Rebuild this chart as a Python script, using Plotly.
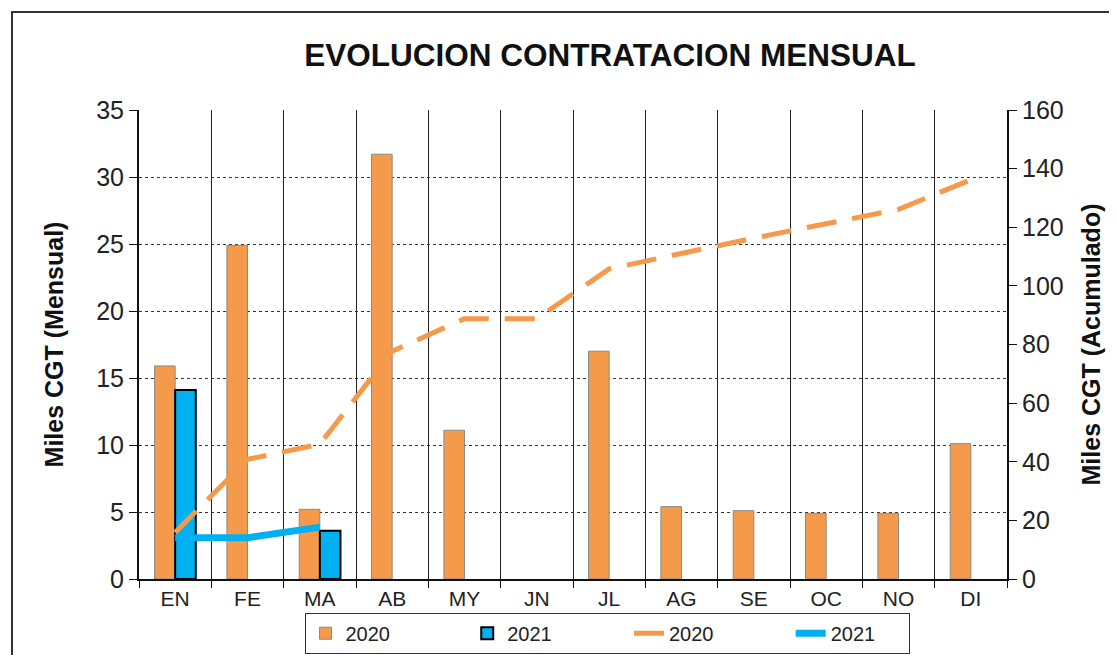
import plotly.graph_objects as go

months = ["EN", "FE", "MA", "AB", "MY", "JN", "JL", "AG", "SE", "OC", "NO", "DI"]
mensual_2020 = [15.9, 24.9, 5.2, 31.7, 11.1, 0.0, 17.0, 5.4, 5.1, 4.9, 4.9, 10.1]
mensual_2021 = [14.1, None, 3.6, None, None, None, None, None, None, None, None, None]
acum_2020 = [15.9, 40.8, 46.0, 77.7, 88.8, 88.8, 105.8, 111.2, 116.3, 121.2, 126.1, 136.2]
acum_2021 = [14.1, 14.1, 17.7]

ORANGE = "#F5994A"
BLUE = "#00B0F0"
FONT = "Liberation Sans, Arial, sans-serif"
PAD = "\u00a0" * 13

fig = go.Figure()
fig.add_trace(go.Bar(x=months, y=mensual_2020, name="2020" + PAD,
                     marker=dict(color=ORANGE,
                                 line=dict(color="#8a8a8a",
                                           width=[0 if v == 0 else 1 for v in mensual_2020]))))
fig.add_trace(go.Bar(x=months, y=mensual_2021, name="2021" + PAD,
                     marker=dict(color=BLUE, line=dict(color="black", width=2))))
fig.add_trace(go.Scatter(x=months, y=acum_2020, name="2020" + PAD, yaxis="y2", mode="lines",
                         line=dict(color=ORANGE, width=5, dash="30px,16px")))
fig.add_trace(go.Scatter(x=months[:len(acum_2021)], y=acum_2021, name="2021" + "\u00a0" * 5,
                         yaxis="y2", mode="lines", line=dict(color=BLUE, width=7)))

OFF = 8  # page body margin
W, H = 1117 - 2 * OFF, 663 - 2 * OFF
L, T = 139 - OFF, 110 - OFF
R = W - (1007 - OFF)
B = H - (579 - OFF)
pw, ph = W - L - R, H - T - B


def px_x(x):
    return (x - OFF - L) / pw


def px_y(y):
    return (H - B - (y - OFF)) / ph


fig.update_layout(
    width=W, height=H,
    margin=dict(l=L, r=R, t=T, b=B, autoexpand=False),
    paper_bgcolor="white", plot_bgcolor="white",
    font=dict(family=FONT, color="#222"),
    barmode="group", bargap=0.43, bargroupgap=0.0,
    title=dict(text="<b>EVOLUCION CONTRATACION MENSUAL</b>", x=(610 - OFF) / W, xanchor="center",
               y=1 - (55 - OFF) / H, yanchor="middle",
               font=dict(size=31.5, color="#111", family=FONT)),
    xaxis=dict(type="category", tickson="boundaries", showgrid=True, gridcolor="#222",
               gridwidth=1.2, showline=True, linecolor="#111", linewidth=2, automargin=False,
               ticks="outside", ticklen=7, tickcolor="#111",
               tickfont=dict(size=21, color="#222"), range=[-0.5, 11.5]),
    yaxis=dict(range=[0, 35], dtick=5, showgrid=True, gridcolor="#333", gridwidth=1,
               griddash="dot", showline=True, linecolor="#111", linewidth=2, automargin=False,
               ticks="outside", ticklen=8, tickcolor="#111", zeroline=False,
               tickfont=dict(size=25, color="#222"),
               title=dict(text="<b>Miles CGT (Mensual)</b>", font=dict(size=25, color="#111"),
                          standoff=25)),
    yaxis2=dict(range=[0, 160], dtick=20, overlaying="y", side="right", showgrid=False,
                showline=True, linecolor="#111", linewidth=2, ticks="outside", ticklen=8,
                automargin=False,
                tickcolor="#111", zeroline=False, tickfont=dict(size=25, color="#222"),
                title=dict(text="<b>Miles CGT (Acumulado)</b>", font=dict(size=25, color="#111"),
                           standoff=20)),
    legend=dict(orientation="h", x=px_x(607), xanchor="center",
                yref="container", y=0.002, yanchor="bottom",
                bordercolor="#333", borderwidth=1, bgcolor="white",
                font=dict(size=20, color="#222"), traceorder="normal"),
    showlegend=True,
)

fig.add_shape(type="rect", xref="paper", yref="paper",
              x0=px_x(12), x1=px_x(1130), y0=px_y(680), y1=px_y(12),
              line=dict(color="#333", width=2), fillcolor="rgba(0,0,0,0)", layer="below")

fig.write_html("out.html")
